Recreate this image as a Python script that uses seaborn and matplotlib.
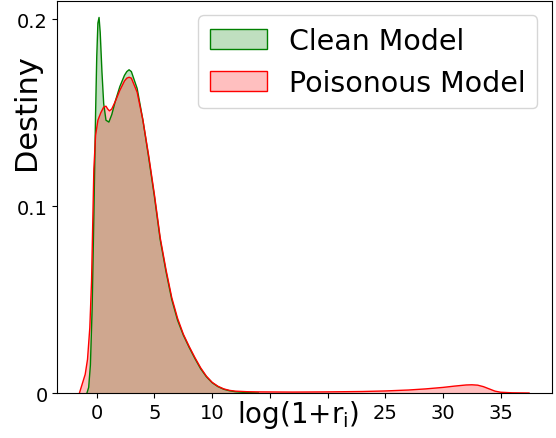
import matplotlib
matplotlib.use("Agg")
import matplotlib.pyplot as plt
from matplotlib.patches import Patch
import pandas as pd
import seaborn as sns

# Estimated density of log(1+r_i) for the clean model
clean_x = [-0.85, -0.7, -0.55, -0.4, -0.25, -0.1, 0.0, 0.1, 0.2, 0.3, 0.45, 0.6,
           0.8, 1.05, 1.3, 1.6, 2.0, 2.4, 2.6, 2.8, 3.0, 3.5, 4.0, 4.5, 5.0, 5.5,
           6.0, 6.5, 7.0, 7.5, 8.0, 8.5, 9.0, 9.5, 10.0, 10.5, 11.0, 11.5, 12.0,
           13.0, 14.0]
clean_density = [0.0, 0.003, 0.015, 0.045, 0.095, 0.15, 0.18, 0.198, 0.201, 0.193,
                 0.172, 0.155, 0.146, 0.145, 0.149, 0.156, 0.164, 0.170, 0.172,
                 0.173, 0.172, 0.163, 0.146, 0.126, 0.105, 0.082, 0.065, 0.050,
                 0.039, 0.031, 0.0245, 0.0185, 0.013, 0.0087, 0.0055, 0.0034,
                 0.002, 0.0012, 0.0007, 0.0002, 0.0]

# Estimated density of log(1+r_i) for the poisonous model
poison_x = [-1.5, -1.4, -1.2, -1.0, -0.8, -0.6, -0.45, -0.35, -0.25, -0.1, 0.1,
            0.35, 0.6, 0.8, 0.95, 1.1, 1.3, 1.6, 2.0, 2.4, 2.6, 2.8, 3.0, 3.5,
            4.0, 4.5, 5.0, 5.5, 6.0, 6.5, 7.0, 7.5, 8.0, 8.5, 9.0, 9.5, 10.0, 10.5,
            11.0, 11.5, 12.0, 13.0, 14.0, 17.0, 20.0, 23.0, 25.0, 27.0, 28.5, 30.0,
            31.0, 32.0, 32.5, 33.0, 33.5, 34.0, 34.5, 35.0, 36.0, 37.45]
poison_density = [0.0, 0.002, 0.006, 0.010, 0.018, 0.035, 0.060, 0.090, 0.120,
                  0.138, 0.146, 0.150, 0.153, 0.1535, 0.152, 0.151, 0.152, 0.156,
                  0.162, 0.167, 0.1685, 0.169, 0.1685, 0.161, 0.146, 0.127, 0.106,
                  0.083, 0.066, 0.051, 0.040, 0.0315, 0.025, 0.019, 0.0135, 0.009,
                  0.0057, 0.0036, 0.0022, 0.0014, 0.001, 0.0007, 0.0006, 0.0005,
                  0.0006, 0.0008, 0.0011, 0.0016, 0.0022, 0.0030, 0.0037, 0.0043,
                  0.0044, 0.0042, 0.0034, 0.0022, 0.0010, 0.0004, 0.0001, 0.0]

series_names = ["Clean Model", "Poisonous Model"]
series_colors = ["green", "red"]

x_ticks = [0, 5, 10, 15, 20, 25, 30, 35]
x_tick_labels = ["0", "5", "10", "", "", "25", "30", "35"]
y_ticks = [0, 0.1, 0.2]
y_tick_labels = ["0", "0.1", "0.2"]

df = pd.concat([
    pd.DataFrame({"x": clean_x, "density": clean_density, "model": series_names[0]}),
    pd.DataFrame({"x": poison_x, "density": poison_density, "model": series_names[1]}),
], ignore_index=True)

fig = plt.figure(figsize=(5.56, 4.39), dpi=100)
ax = fig.add_axes([0.103, 0.1025, 0.889, 0.8925])

handles = []
for name, color in zip(series_names, series_colors):
    sub = df[df["model"] == name]
    ax.fill_between(sub["x"], 0, sub["density"], facecolor=color, alpha=0.25,
                    edgecolor="none")
    sns.lineplot(data=sub, x="x", y="density", color=color, linewidth=1.0,
                 ax=ax, legend=False)
    handles.append(Patch(facecolor=matplotlib.colors.to_rgba(color, 0.25),
                         edgecolor=color, label=name))

ax.set_xlim(-3.42, 39.4)
ax.set_ylim(0, 0.2097)
ax.set_xticks(x_ticks)
ax.set_xticklabels(x_tick_labels)
ax.set_yticks(y_ticks)
ax.set_yticklabels(y_tick_labels)
ax.tick_params(labelsize=14)

ax.set_xlabel(r"log(1+r$_\mathregular{i}$)", fontsize=20)
ax.xaxis.set_label_coords(0.488, -0.012)
ax.set_ylabel("Destiny", fontsize=22)
ax.yaxis.set_label_coords(-0.033, 0.72)

ax.legend(handles=handles, loc="upper right", fontsize=20.5)

fig.savefig("out.png", dpi=100)
